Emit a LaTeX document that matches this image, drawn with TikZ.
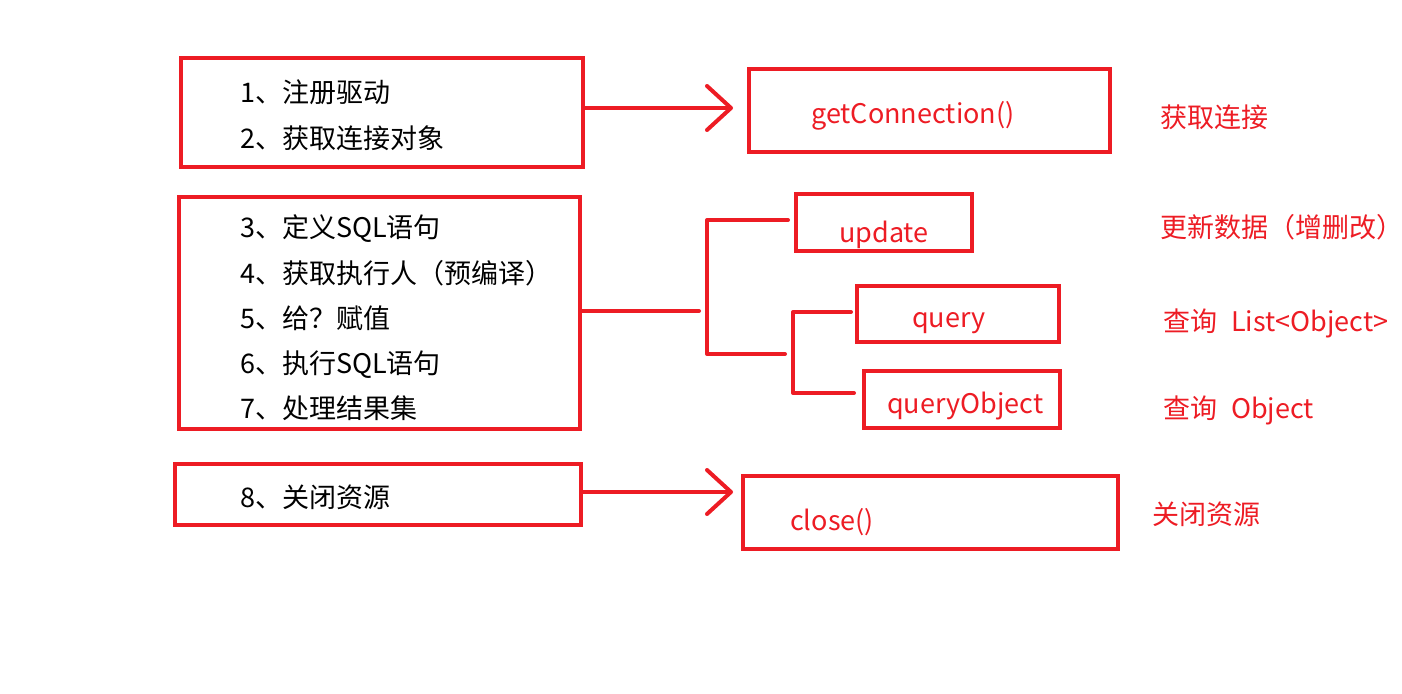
\documentclass[tikz,border=0pt]{standalone}
\usepackage{fontspec}
\setmainfont{Noto Sans CJK SC}
\usepackage{tikz}
\usetikzlibrary{arrows.meta}
\usetikzlibrary{fit,calc}
\definecolor{paintred}{RGB}{237,28,36}
\tikzset{
	redline/.style={draw=paintred, line width=4pt, line cap=round, line join=round},
	redbox/.style={draw=paintred, line width=4pt, inner sep=0pt},
	barb/.style={-{Straight Barb[length=24pt,width=44pt,round]}},
	steptext/.style={anchor=base west, inner sep=0pt, font=\fontsize{27}{32}\selectfont},
	calltext/.style={steptext, text=paintred}
}
\newcommand{\paintbox}[3]{
	\node[redbox, fit={#2 #3}] (#1) {};
}

\begin{document}
\begin{tikzpicture}[x=1pt, y=-1pt]
	\useasboundingbox (0,0) rectangle (1402,693);
%
	\paintbox{reg}{(181,58)}{(583,167)}
	\paintbox{exec}{(179,197)}{(580,429)}
	\paintbox{rel}{(175,464)}{(581,525)}
	\paintbox{conn}{(749,69)}{(1110,152)}
	\paintbox{upd}{(796,194)}{(972,251)}
	\paintbox{qry}{(857,286)}{(1059,342)}
	\paintbox{qobj}{(864,371)}{(1060,428)}
	\paintbox{cls}{(743,476)}{(1118,549)}
%
	\node[steptext] (s1) at (240,102) {1、注册驱动};
	\node[steptext] (s2) at (240,148) {2、获取连接对象};
	\node[steptext] (s3) at (240,237) {3、定义SQL语句};
	\node[steptext] (s4) at (240,283) {4、获取执行人（预编译）};
	\node[steptext] (s5) at (240,328) {5、给？赋值};
	\node[steptext] (s6) at (240,373) {6、执行SQL语句};
	\node[steptext] (s7) at (240,418) {7、处理结果集};
	\node[steptext] (s8) at (240,507) {8、关闭资源};
%
	\node[calltext] (tconn) at (811,123) {getConnection()};
	\node[calltext] (tupd) at (839,242) {update};
	\node[calltext] (tqry) at (912,327) {query};
	\node[calltext] (tqobj) at (887,413) {queryObject};
	\node[calltext] (tcls) at (790,530) {close()};
%
	\node[calltext] (nconn) at (1160,127) {获取连接};
	\node[calltext] (nupd) at (1160,237) {更新数据（增删改）};
	\node[calltext] (nqry) at (1163,331) {查询\hspace{14pt}List<Object>};
	\node[calltext] (nqobj) at (1163,418) {查询\hspace{14pt}Object};
	\node[calltext] (ncls) at (1152,524) {关闭资源};
%
	\coordinate (tip1) at (735,108);
	\coordinate (tip2) at (735,492);
	\draw[redline, barb, shorten >=14pt] (reg.east |- tip1) -- (conn.west |- tip1);
	\draw[redline, barb, shorten >=8pt] (rel.east |- tip2) -- (cls.west |- tip2);
%
	\coordinate (trunk) at (699,311);
	\coordinate (fork) at (707,220);
	\coordinate (forkend) at (785,354);
	\coordinate (fork2) at (793,312);
	\coordinate (fork2end) at (854,393);
	\draw[redline] (exec.east |- trunk) -- (trunk);
	\draw[redline] ([xshift=-6pt]upd.west |- fork) -- (fork) |- (forkend);
	\draw[redline] ([xshift=-4pt]qry.west |- fork2) -- (fork2) |- (fork2end);
\end{tikzpicture}
\end{document}
